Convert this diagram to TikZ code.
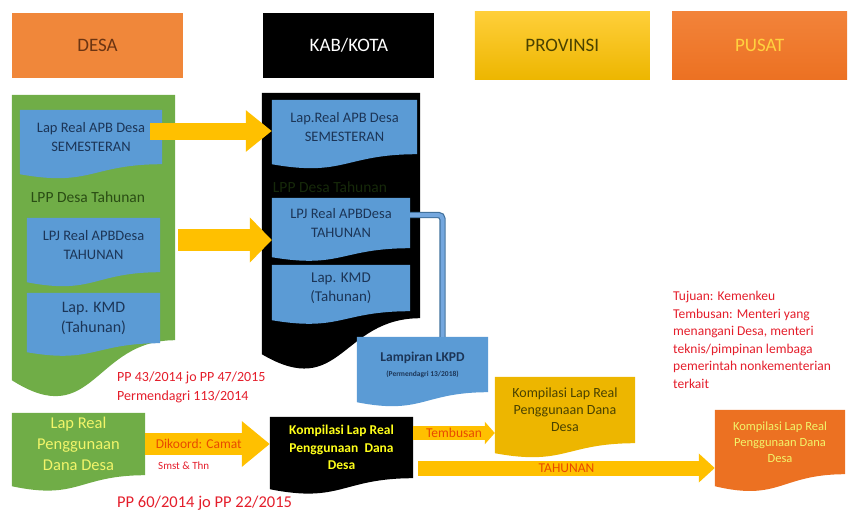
\documentclass[tikz,border=0pt]{standalone}
\usepackage{fontspec}
\setmainfont{Carlito}
\usepackage{xcolor}
\usepackage{tikz}
\definecolor{desaorange}{HTML}{F0873A}
\definecolor{desatext}{HTML}{6B3412}
\definecolor{provtop}{HTML}{FFCF3A}
\definecolor{provbot}{HTML}{EDB600}
\definecolor{provtext}{HTML}{4A4200}
\definecolor{pusattop}{HTML}{F2833A}
\definecolor{pusatbot}{HTML}{EC7122}
\definecolor{pusattext}{HTML}{FFD23F}
\definecolor{descgreen}{HTML}{70AD47}
\definecolor{boxblue}{HTML}{5B9BD5}
\definecolor{bluetext}{HTML}{1C3557}
\definecolor{lppgreen}{HTML}{2A4D14}
\definecolor{lppdark}{HTML}{16290A}
\definecolor{arrowyellow}{HTML}{FFC000}
\definecolor{lblorange}{HTML}{E84A00}
\definecolor{regred}{HTML}{E41E2B}
\definecolor{paleyellow}{HTML}{F2F56A}
\definecolor{brightyellow}{HTML}{FFFF1A}
\definecolor{connblue}{HTML}{41719C}
\definecolor{connlight}{HTML}{74A7DE}
\usetikzlibrary{arrows.meta,positioning,calc}
\pgfdeclarelayer{bg}
\pgfsetlayers{bg,main}
\newcommand{\docwave}[3]{%
  \fill[#2] let \p1=(#1.north west), \p2=(#1.south east) in
    (\p1) -- (\x2,\y1) -- (\p2)
    .. controls ({0.5*\x1+0.5*\x2},\y2) and ({0.5*\x1+0.5*\x2},{\y2-2.3*#3pt}) ..
    (\x1,{\y2-#3pt}) -- cycle;}

\begin{document}
\begin{tikzpicture}[x=1pt,y=-1pt,
  hdr/.style={minimum width=171pt,minimum height=65pt,inner sep=0pt,
              font=\fontsize{19}{22}\selectfont},
  doc/.style n args={2}{minimum width=#1,minimum height=#2,inner sep=0pt,align=center},
  bluetxt/.style={text=bluetext,font=\fontsize{14.5}{18.5}\selectfont},
  lpp/.style={inner sep=0pt,font=\fontsize{15.5}{18}\selectfont},
  lbl/.style={text=lblorange,inner sep=0pt,font=\fontsize{13.5}{16}\selectfont},
  regtxt/.style={text=regred,inner sep=0pt,align=left,font=\fontsize{14}{19}\selectfont},
  yarr/.style={draw=arrowyellow,line width=18pt,-{Triangle[length=26pt,width=40pt]}},
  bconn/.style={draw=connblue,double=connlight,double distance=4pt,line width=1.2pt,
                rounded corners=4pt}]
\useasboundingbox (0,0) rectangle (849,515);

\node[hdr,fill=desaorange,text=desatext] (hdesa) at (97.5,45.5) {DESA};
\node[hdr,fill=black,text=white,right=80pt of hdesa] (hkab) {KAB/KOTA};
\node[hdr,top color=provtop,bottom color=provbot,text=provtext,minimum width=175pt,
      minimum height=68pt,right=40pt of hkab] (hprov) {PROVINSI};
\node[hdr,top color=pusattop,bottom color=pusatbot,text=pusattext,minimum width=175pt,
      minimum height=68pt,right=22pt of hprov] (hpusat) {PUSAT};

\node[doc={163pt}{245pt}] (gcol) at (93.5,217.5) {};
\node[doc={158pt}{225pt}] (kcol) at (341,205.5) {};

\node[doc={142pt}{54pt},bluetxt] (gsem) at (91,137) {Lap Real APB Desa\\SEMESTERAN};
\node[lpp,text=lppgreen] (glpp) at (88,197) {LPP Desa Tahunan};
\node[doc={133pt}{54pt},bluetxt] (glpj) at (93.5,245) {LPJ Real APBDesa\\TAHUNAN};
\node[doc={133pt}{50pt},bluetxt,font=\fontsize{16}{20}\selectfont] (gkmd) at (93.5,318) {Lap. KMD\\(Tahunan)};

\node[doc={145pt}{54pt},bluetxt] (ksem) at (344.5,127) {Lap.Real APB Desa\\SEMESTERAN};
\node[lpp,text=lppdark] (klpp) at (330,187) {LPP Desa Tahunan};
\node[doc={138pt}{50pt},bluetxt] (klpj) at (341,223) {LPJ Real APBDesa\\TAHUNAN};
\node[doc={138pt}{46pt},bluetxt,font=\fontsize{15}{19}\selectfont] (kkmd) at (341,288) {Lap. KMD\\(Tahunan)};
\node[doc={131pt}{55pt},text=bluetext] (lkpd) at (422.5,364.5)
  {{\fontsize{13.5}{16}\selectfont\bfseries Lampiran LKPD}\\[3pt]
   {\fontsize{7.5}{9}\selectfont\bfseries (Permendagri 13/2018)}};

\node[doc={133pt}{62pt},text=paleyellow,font=\fontsize{16.5}{21}\selectfont] (gdana) at (78.5,444)
  {Lap Real\\Penggunaan\\Dana Desa};
\node[doc={143pt}{61pt},text=brightyellow,font=\fontsize{13.5}{17.5}\selectfont\bfseries] (kkomp) at (341.5,447.5)
  {Kompilasi Lap Real\\Penggunaan\ \ Dana\\Desa};
\node[doc={140pt}{66pt},text=provtext,font=\fontsize{14}{17}\selectfont] (pkomp) at (565,410)
  {Kompilasi Lap Real\\Penggunaan Dana\\Desa};
\node[doc={130pt}{64pt},text=paleyellow,font=\fontsize{12.5}{16}\selectfont] (ukomp) at (780,442)
  {Kompilasi Lap Real\\Penggunaan Dana\\Desa};

\node[regtxt,anchor=north west] (reg1) at (117,372) {PP 43/2014 jo PP 47/2015\\Permendagri 113/2014};
\node[regtxt,anchor=west,font=\fontsize{16.5}{19}\selectfont] (reg2) at (117,503) {PP 60/2014 jo PP 22/2015};
\node[regtxt,anchor=north west,font=\fontsize{13.5}{17.5}\selectfont] (tujuan) at (673,291)
  {Tujuan: Kemenkeu\\Tembusan: Menteri yang\\menangani Desa, menteri\\teknis/pimpinan lembaga\\pemerintah nonkementerian\\terkait};

\begin{pgfonlayer}{bg}
\docwave{gcol}{descgreen}{40}
\docwave{kcol}{black}{36}
\docwave{gsem}{boxblue}{10}
\docwave{glpj}{boxblue}{10}
\docwave{gkmd}{boxblue}{9}
\docwave{ksem}{boxblue}{10}
\docwave{klpj}{boxblue}{9}
\docwave{kkmd}{boxblue}{9}
\docwave{lkpd}{boxblue}{10}
\docwave{gdana}{descgreen}{11}
\docwave{kkomp}{black}{11}
\docwave{pkomp}{provbot}{10}
\docwave{ukomp}{pusatbot}{12}
\end{pgfonlayer}

\draw[yarr,line width=17pt] ($(gsem.east)+(-12,-6)$) -- ($(gsem.east -| ksem.west)+(0,-6)$);
\draw[yarr,line width=22pt,-{Triangle[length=22pt,width=44pt]}]
  ($(gcol.east |- glpj.east)+(3,-5)$) -- ($(glpj.east -| klpj.west)+(0,-5)$);
\draw[bconn] ($(klpj.east)+(0,-8)$) -| ($(lkpd.north)+(20,0)$);

\draw[yarr,line width=22pt,-{Triangle[length=28pt,width=44pt]}] (gdana.east) -- (gdana.east -| kkomp.west)
  node[lbl,pos=0.43] {Dikoord: Camat}
  node[at start,anchor=west,text=regred,inner sep=0pt,font=\fontsize{11}{13}\selectfont,
       xshift=2pt,yshift=-22pt] {Smst \& Thn};
\draw[yarr,line width=14pt,-{Triangle[length=10pt,width=22pt]}]
  ($(kkomp.east)+(0,-14.5)$) coordinate (tb) -- (tb -| pkomp.west) node[lbl,midway] {Tembusan};
\draw[yarr,line width=15pt,-{Triangle[length=16pt,width=28pt]}]
  ($(kkomp.east)+(5,20.5)$) coordinate (th) -- (th -| ukomp.west) node[lbl,midway] {TAHUNAN};
\end{tikzpicture}
\end{document}
